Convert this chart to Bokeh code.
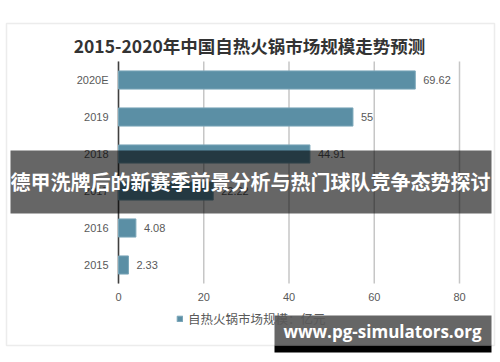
from bokeh.plotting import figure
from bokeh.models import (ColumnDataSource, Range1d, Label, BoxAnnotation, Legend, LegendItem)
from bokeh.core.properties import value
from bokeh.embed import file_html
from bokeh.resources import INLINE

years = ["2015", "2016", "2017", "2018", "2019", "2020E"]
values = [2.33, 4.08, 22.22, 44.91, 55, 69.62]
value_labels = ["2.33", "4.08", "22.22", "44.91", "55", "69.62"]
x_ticks = [0, 20, 40, 60, 80]
x_tick_labels = ["0", "20", "40", "60", "80"]
title_text = "2015-2020年中国自热火锅市场规模走势预测"
series_name = "自热火锅市场规模：亿元"
banner_text = "德甲洗牌后的新赛季前景分析与热门球队竞争态势探讨"
watermark_text = "www.pg-simulators.org"

W, H = 500, 362
# plot-area placement (pixels in the canvas)
PL, PR, PT, PB = 118, 459, 61, 283
XMAX = x_ticks[-1]
ppu = (PR - PL) / XMAX
n = len(years)
row = (PB - PT) / n

pos = list(range(n))
src = ColumnDataSource(dict(y=pos, year=years, value=values, label=value_labels))
tick_src = ColumnDataSource(dict(x=x_ticks, label=x_tick_labels,
                                 y0=[-0.5] * len(x_ticks), y1=[n - 0.5] * len(x_ticks)))

p = figure(width=W, height=H, output_backend="svg", toolbar_location=None,
           x_range=Range1d(-PL / ppu, XMAX + (W - PR) / ppu),
           y_range=Range1d(-0.5 - (H - PB) / row, n - 0.5 + PT / row),
           min_border=0)
p.xaxis.visible = False
p.yaxis.visible = False
p.grid.visible = False
p.outline_line_color = None
p.background_fill_color = "white"
p.border_fill_color = "white"

# grid lines
p.segment(x0="x", x1="x", y0="y0", y1="y1", source=tick_src,
          line_color="#c6c6c6", line_width=1.5)
# value axis line at 0
p.segment(x0=[0], x1=[0], y0=[-0.5], y1=[n - 0.5], line_color="#404040", line_width=1.5)

r = p.hbar(y="y", right="value", left=0, height=0.49, source=src,
           fill_color="#5b8fa5", line_color="#7aa6b8", line_width=1)

# category labels
p.text(x=0, y="y", text="year", source=src, x_offset=-10,
       text_align="right", text_baseline="middle",
       text_font=value("Liberation Sans"), text_font_size="11px", text_color="#595959")
# value labels
p.text(x="value", y="y", text="label", source=src, x_offset=8,
       text_align="left", text_baseline="middle",
       text_font=value("Liberation Sans"), text_font_size="11px", text_color="#595959")
# x tick labels
p.text(x="x", y="y0", text="label", source=tick_src, y_offset=9,
       text_align="center", text_baseline="top",
       text_font=value("Liberation Sans"), text_font_size="11px", text_color="#595959")

legend = Legend(items=[LegendItem(label=series_name, renderers=[r])],
                location=(176, 34), orientation="horizontal",
                glyph_width=7, glyph_height=7, label_height=12,
                label_standoff=5, padding=0, margin=0,
                border_line_color=None, background_fill_alpha=0,
                label_text_font="Noto Sans CJK SC", label_text_font_size="12.5px",
                label_text_color="#595959")
p.add_layout(legend, "center")

frame = BoxAnnotation(left=6, right=494, top=23, bottom=345,
                      left_units="canvas", right_units="canvas",
                      top_units="canvas", bottom_units="canvas",
                      fill_alpha=0, line_color="#c0c0c0", line_width=1.5,
                      level="underlay")
p.add_layout(frame)

title = Label(x=249, y=45, x_units="canvas", y_units="canvas", text=title_text,
              text_align="center", text_baseline="middle",
              text_font="Noto Sans CJK SC", text_font_style="bold",
              text_font_size="17.5px", text_color="#333333")
p.add_layout(title)

banner = BoxAnnotation(left=10, right=491, top=150, bottom=213,
                       left_units="canvas", right_units="canvas",
                       top_units="canvas", bottom_units="canvas",
                       fill_color="black", fill_alpha=0.6, line_color=None,
                       level="overlay")
p.add_layout(banner)
banner_label = Label(x=250, y=181, x_units="canvas", y_units="canvas",
                     text=banner_text, text_align="center", text_baseline="middle",
                     text_font="Noto Sans CJK SC", text_font_style="bold",
                     text_font_size="20px", text_color="white", level="overlay")
p.add_layout(banner_label)

wm = BoxAnnotation(left=274, right=491, top=315, bottom=345,
                   left_units="canvas", right_units="canvas",
                   top_units="canvas", bottom_units="canvas",
                   fill_color="black", fill_alpha=0.6, line_color=None,
                   level="overlay")
p.add_layout(wm)
wm2 = BoxAnnotation(left=274, right=491, top=345, bottom=352,
                    left_units="canvas", right_units="canvas",
                    top_units="canvas", bottom_units="canvas",
                    fill_color="black", fill_alpha=1, line_color=None,
                    level="overlay")
p.add_layout(wm2)
wm_label = Label(x=382, y=331, x_units="canvas", y_units="canvas",
                 text=watermark_text, text_align="center", text_baseline="middle",
                 text_font="Open Sans", text_font_style="bold",
                 text_font_size="17px", text_color="white", level="overlay")
p.add_layout(wm_label)

open("out.html", "w").write(file_html(p, INLINE))
